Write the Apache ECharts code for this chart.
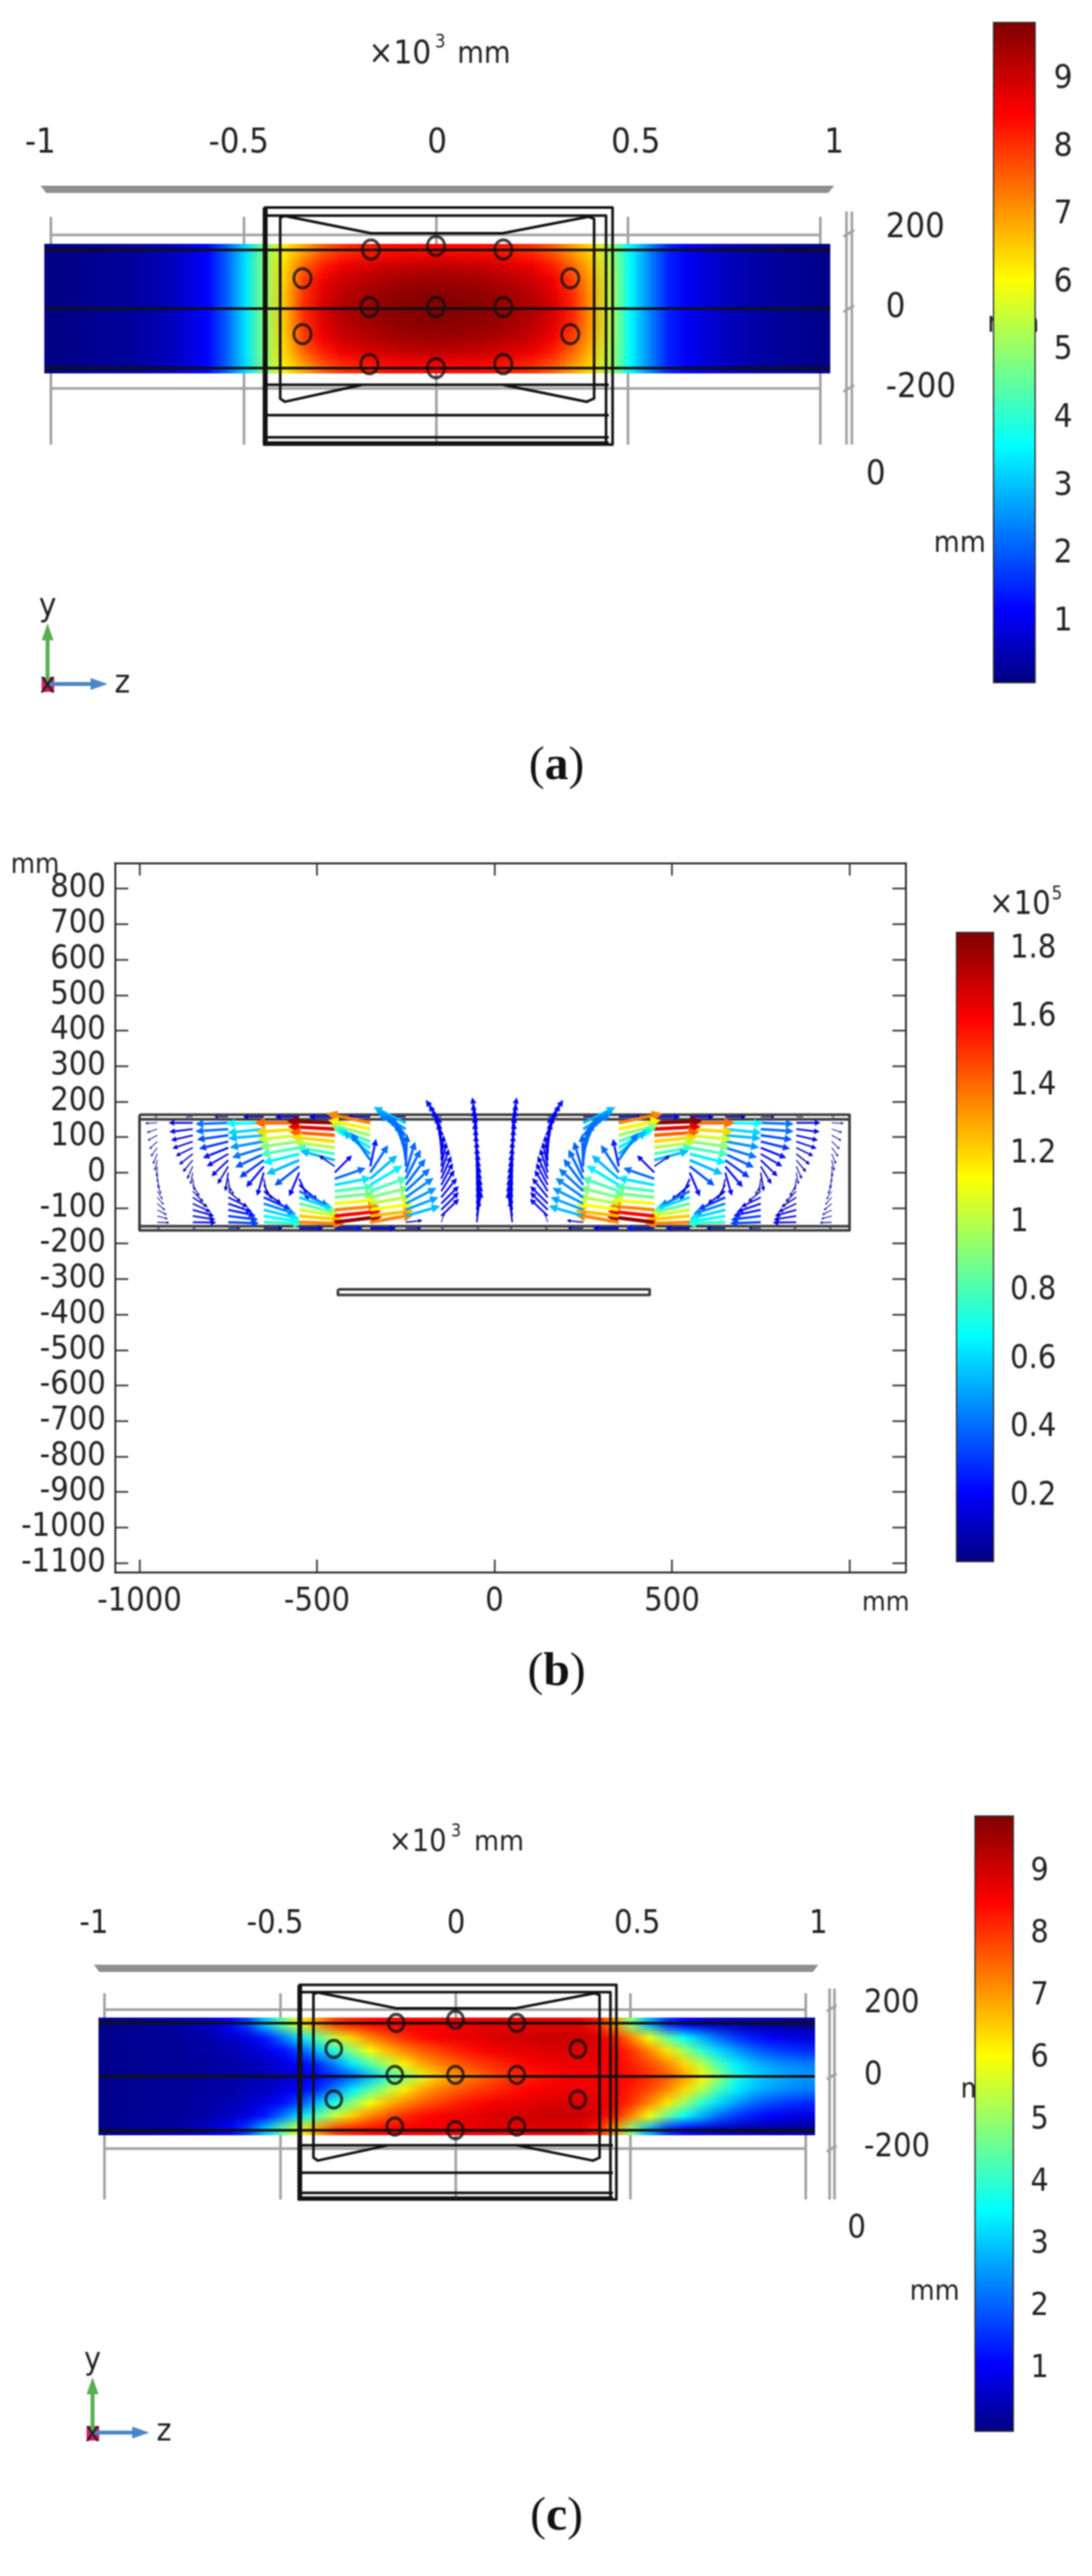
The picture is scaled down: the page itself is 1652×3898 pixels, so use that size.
<!DOCTYPE html>
<html>
<head>
<meta charset="utf-8">
<title>Field plots</title>
<script src="https://cdn.jsdelivr.net/npm/echarts@6/dist/echarts.min.js"></script>
<style>
  html, body { margin: 0; padding: 0; background: #fff; }
  #main { width: 1652px; height: 3898px; filter: blur(0.8px); }
</style>
</head>
<body>
<div id="main"></div>
<script>
// tick labels
var xLabels3d = [-1, -0.5, 0, 0.5, 1]
var yLabels3d = [-200, 0, 200]
var barTicksMm = [1, 2, 3, 4, 5, 6, 7, 8, 9]
var barTicksB = [0.2, 0.4, 0.6, 0.8, 1, 1.2, 1.4, 1.6, 1.8]
var bTicksX = [-1000, -500, 0, 500, 1000]
var bLabelsX = [-1000, -500, 0, 500]
var bTicksY = [800, 700, 600, 500, 400, 300, 200, 100, 0, -100, -200, -300, -400, -500, -600, -700, -800, -900, -1000, -1100]

// colour scale ranges
var rangeA = [0.1, 9.84]
var rangeB = [0.009, 1.848]
var rangeC = [0, 9.9]

var beamExtent = [-1017, 1026, -160, 160]
var fieldA = [
  [.15,.2,.25,.3,.35,.45,.6,.85,1.2,2.1,3.3,4.9,6.2,6.9,7.6,8.0,8.2,8.3,8.4,8.4,8.45,8.4,8.4,8.3,8.2,8.0,7.6,7.0,6.4,5.2,3.6,2.5,1.5,1.1,.85,.65,.5,.4,.3,.25,.2],
  [.15,.2,.25,.3,.35,.45,.6,.85,1.2,2.1,3.4,5.0,6.4,7.5,8.2,8.6,8.8,8.95,9.05,9.1,9.15,9.1,9.05,8.95,8.8,8.6,8.2,7.5,6.7,5.3,3.6,2.5,1.5,1.1,.85,.65,.5,.4,.3,.25,.2],
  [.15,.2,.25,.3,.35,.45,.6,.85,1.2,2.1,3.4,5.0,6.5,7.9,8.6,9.0,9.2,9.35,9.45,9.5,9.55,9.5,9.45,9.35,9.2,9.0,8.6,7.9,6.9,5.4,3.6,2.5,1.5,1.1,.85,.65,.5,.4,.3,.25,.2],
  [.15,.2,.25,.3,.35,.45,.6,.85,1.2,2.1,3.4,5.0,6.6,8.0,8.8,9.2,9.4,9.55,9.65,9.7,9.75,9.7,9.65,9.55,9.4,9.2,8.8,8.1,7.0,5.4,3.6,2.5,1.5,1.1,.85,.65,.5,.4,.3,.25,.2],
  [.15,.2,.25,.3,.35,.45,.6,.85,1.2,2.1,3.4,5.0,6.6,8.1,8.9,9.3,9.5,9.65,9.75,9.8,9.84,9.8,9.75,9.65,9.5,9.3,8.9,8.2,7.0,5.4,3.6,2.5,1.5,1.1,.85,.65,.5,.4,.3,.25,.2],
  [.15,.2,.25,.3,.35,.45,.6,.85,1.2,2.1,3.4,5.0,6.6,8.0,8.8,9.2,9.4,9.55,9.65,9.7,9.75,9.7,9.65,9.55,9.4,9.2,8.8,8.1,7.0,5.4,3.6,2.5,1.5,1.1,.85,.65,.5,.4,.3,.25,.2],
  [.15,.2,.25,.3,.35,.45,.6,.85,1.2,2.1,3.4,5.0,6.5,7.9,8.6,9.0,9.2,9.35,9.45,9.5,9.55,9.5,9.45,9.35,9.2,9.0,8.6,7.9,6.9,5.4,3.6,2.5,1.5,1.1,.85,.65,.5,.4,.3,.25,.2],
  [.15,.2,.25,.3,.35,.45,.6,.85,1.2,2.1,3.4,5.0,6.4,7.5,8.2,8.6,8.8,8.95,9.05,9.1,9.15,9.1,9.05,8.95,8.8,8.6,8.2,7.5,6.7,5.3,3.6,2.5,1.5,1.1,.85,.65,.5,.4,.3,.25,.2],
  [.15,.2,.25,.3,.35,.45,.6,.85,1.2,2.1,3.3,4.9,6.2,6.9,7.6,8.0,8.2,8.3,8.4,8.4,8.45,8.4,8.4,8.3,8.2,8.0,7.6,7.0,6.4,5.2,3.6,2.5,1.5,1.1,.85,.65,.5,.4,.3,.25,.2]
]
var fieldC = [
  [.1,.15,.2,.25,.3,.45,.7,1.1,1.7,3.0,4.5,5.9,7.0,7.9,8.2,8.4,8.5,8.6,8.6,8.6,8.7,8.7,8.8,8.8,8.8,8.8,8.8,8.8,8.3,7.0,4.8,2.8,1.6,1.1,.8,.6,.45,.35,.3,.25,.2],
  [.1,.15,.2,.2,.25,.3,.4,.6,.85,1.3,2.2,3.3,4.4,5.5,6.5,7.2,7.7,8.1,8.4,8.6,8.7,8.8,8.9,9.0,9.0,9.1,9.1,9.1,8.9,8.3,7.2,5.9,4.6,3.6,2.8,2.1,1.6,1.3,1.1,.9,.8],
  [.1,.15,.15,.2,.2,.3,.35,.45,.6,.85,1.2,1.8,2.9,3.9,4.9,5.9,6.7,7.2,7.6,7.9,8.2,8.4,8.6,8.7,8.8,8.9,8.9,8.9,8.8,8.6,8.0,7.2,6.3,5.1,4.0,3.2,2.6,2.1,1.8,1.6,1.5],
  [.1,.15,.15,.2,.2,.25,.3,.35,.45,.55,.8,1.1,1.5,2.4,3.4,4.4,5.3,6.2,6.9,7.3,7.6,7.9,8.1,8.3,8.5,8.6,8.7,8.7,8.7,8.6,8.2,7.8,7.2,6.4,5.3,4.2,3.4,2.9,2.6,2.4,2.3],
  [.1,.15,.15,.2,.2,.25,.3,.35,.4,.5,.6,.8,1.1,1.5,2.0,2.9,3.9,4.8,5.8,6.6,7.1,7.4,7.7,8.0,8.2,8.4,8.5,8.6,8.6,8.5,8.4,8.1,7.7,7.0,6.1,5.0,3.8,3.2,2.9,2.7,2.6],
  [.1,.15,.15,.2,.2,.25,.3,.35,.45,.55,.8,1.1,1.5,2.4,3.4,4.4,5.3,6.2,6.9,7.3,7.6,7.9,8.1,8.3,8.5,8.6,8.7,8.7,8.7,8.6,8.2,7.8,7.2,6.4,5.3,4.2,3.4,2.9,2.6,2.4,2.3],
  [.1,.15,.15,.2,.2,.3,.35,.45,.6,.85,1.2,1.8,2.9,3.9,4.9,5.9,6.7,7.2,7.6,7.9,8.2,8.4,8.6,8.7,8.8,8.9,8.9,8.9,8.8,8.6,8.0,7.2,6.3,5.1,4.0,3.2,2.6,2.1,1.8,1.6,1.5],
  [.1,.15,.2,.2,.25,.3,.4,.6,.85,1.3,2.2,3.3,4.4,5.5,6.5,7.2,7.7,8.1,8.4,8.6,8.7,8.8,8.9,9.0,9.0,9.1,9.1,9.1,8.9,8.3,7.2,5.9,4.6,3.6,2.8,2.1,1.6,1.3,1.1,.9,.8],
  [.1,.15,.2,.25,.3,.45,.7,1.1,1.7,3.0,4.5,5.9,7.0,7.9,8.2,8.4,8.5,8.6,8.6,8.6,8.7,8.7,8.8,8.8,8.8,8.8,8.8,8.8,8.3,7.0,4.8,2.8,1.6,1.1,.8,.6,.45,.35,.3,.25,.2]
]

// bolt holes, mm
var holes = [[-168,146],[1,155],[176,146],[-346,75],[350,75],[-172,4],[1,4],[176,4],[-346,-63],[350,-63],[-172,-137],[1,-147],[176,-137]]

// grey reference lines of the 3D view, mm
var grayLines = [
  [[-1000,227],[-1000,-336]], [[-498,227],[-498,-336]], [[2,230],[2,-335]], [[500,227],[500,-336]], [[1000,227],[1000,-336]],
  [[-1000,182],[1000,182]], [[-1000,-197],[1000,-197]],
  [[1068,240],[1068,-336]], [[1082,240],[1082,-336]],
  [[1060,178],[1088,194]], [[1060,-8],[1088,8]], [[1060,-205],[1088,-189]]
]
// frame and plate outlines, mm
var frameLines = [
  [[-446,250],[460,250],[460,-336],[-446,-336],[-446,250]],
  [[-440,250],[-440,-336]],
  [[-446,230],[443,230],[443,-333]],
  [[-392,229],[-168,186],[174,186],[397,227]],
  [[-392,229],[-404,225],[-404,-222],[-392,-230],[-191,-188]],
  [[397,227],[412,222],[412,-222],[393,-230],[175,-188]],
  [[-446,-188],[450,-188]], [[-446,-263],[450,-263]], [[-446,-318],[450,-318]], [[-446,-331],[450,-331]],
  [[-1017,145],[1026,145]], [[-1017,0],[1026,0]], [[-1017,-147],[1026,-147]]
]

// panel b: arrows on a 10 x 17 grid, left half, right half is the mirror image
var arrowCols = [-950, -850, -750, -650, -550, -450, -350, -250, -150, -50]
var arrowRows = [140, 122.5, 105, 87.5, 70, 52.5, 35, 17.5, 0, -17.5, -35, -52.5, -70, -87.5, -105, -122.5, -140]
var arrowAngle = [
  [182,199,209,224,234,247,256,266,272,282,293,303,312,320,332,345,358],
  [180,187,193,199,206,218,230,246,259,278,300,314,327,335,344,351,359],
  [182,184,188,194,202,210,224,239,261,278,300,320,334,341,348,353,358],
  [181,186,185,190,197,205,216,230,254,282,300,324,336,342,346,351,358],
  [180,184,186,188,190,194,203,218,247,294,320,333,341,346,351,355,358],
  [178,177,176,174,172,170,165,146,45,19,11,7,6,5,5,6,7],
  [168,168,165,160,150,140,125,78,57,41,31,20,14,10,8,7,10],
  [154,148,140,125,115,107,98,88,73,63,53,43,35,27,21,16,6],
  [124,116,109,102,97,91,84,78,72,66,62,58,51,45,45,44,70],
  [100,99,98,96,95,93,92,90,89,87,86,84,83,81,80,79,83]
]
var arrowMag = [
  [.05,.045,.045,.045,.045,.045,.045,.042,.04,.04,.04,.04,.04,.042,.045,.045,.05],
  [.17,.16,.14,.13,.10,.085,.07,.06,.05,.048,.055,.07,.09,.11,.14,.15,.16],
  [.41,.41,.36,.31,.235,.18,.155,.118,.10,.055,.045,.078,.135,.19,.25,.31,.33],
  [.68,.6,.55,.48,.42,.36,.3,.23,.17,.085,.078,.135,.3,.45,.6,.68,.75],
  [1.4,1.2,1.05,.92,.8,.65,.55,.35,.2,.16,.17,.43,.6,.85,1.05,1.22,1.35],
  [1.83,1.65,1.42,1.2,1.0,.78,.55,.1,.17,.4,.62,.8,.88,1.1,1.35,1.6,1.82],
  [1.35,1.15,.95,.8,.65,.55,.42,.25,.4,.55,.65,.8,.9,1.0,1.12,1.25,1.35],
  [.55,.5,.45,.42,.42,.4,.4,.38,.38,.4,.4,.42,.45,.48,.5,.55,.08],
  [.24,.23,.2,.19,.18,.18,.18,.18,.18,.18,.18,.18,.18,.18,.18,.18,.04],
  [.2,.19,.19,.18,.18,.18,.18,.18,.18,.18,.18,.18,.18,.18,.18,.18,.13]
]
// thin arrows running inside the two flanges
var flangeTopMag = [.02,.03,.06,.12,.17,.2,.15,.08,.02,.01]
var flangeBottomMag = [.01,.02,.05,.1,.17,.25,.2,.07,.02,.01]
var flangeY = 157

// panel b beam outlines, mm
var bBoxLines = [
  [[-1000,163],[1000,163],[1000,-163],[-1000,-163],[-1000,163]],
  [[-1000,150],[1000,150]], [[-1000,-151],[1000,-151]],
  [[-441,-329],[437,-329],[437,-345],[-441,-345],[-441,-329]]
]

var FONT = '"DejaVu Sans Condensed", "DejaVu Sans"'
var TEXT = '#222'
var jetStops = [[0,[0,0,127]],[.11,[0,0,255]],[.36,[0,255,255]],[.61,[255,255,0]],[.86,[255,0,0]],[1,[127,0,0]]]

function jet(t) {
  t = Math.max(0, Math.min(1, t))
  for (var i = 1; i < jetStops.length; i++) {
    if (t <= jetStops[i][0]) {
      var a = jetStops[i - 1], b = jetStops[i]
      var f = (t - a[0]) / (b[0] - a[0])
      return [0, 1, 2].map(function (c) { return Math.round(a[1][c] + (b[1][c] - a[1][c]) * f) })
    }
  }
  return jetStops[jetStops.length - 1][1]
}
function css(c) { return 'rgb(' + c.join(',') + ')' }

// one pixel per value, the browser smooths it when the series stretches it on the beam
function fieldImage(rows, range) {
  var cv = document.createElement('canvas')
  cv.width = rows[0].length
  cv.height = rows.length
  var ctx = cv.getContext('2d')
  rows.forEach(function (row, r) {
    row.forEach(function (v, c) {
      ctx.fillStyle = css(jet((v - range[0]) / (range[1] - range[0])))
      ctx.fillRect(c, r, 1, 1)
    })
  })
  return cv
}

var grids = [], xAxes = [], yAxes = [], series = [], graphics = []

function addGrid(rect, x, y) {
  grids.push({ left: rect[0], top: rect[1], width: rect[2], height: rect[3] })
  var g = grids.length - 1
  var xs = Array.isArray(x) ? x : [x], ys = Array.isArray(y) ? y : [y]
  var res = { x: xAxes.length, y: yAxes.length }
  xs.forEach(function (a) { a.gridIndex = g; xAxes.push(a) })
  ys.forEach(function (a) { a.gridIndex = g; yAxes.push(a) })
  return res
}
function hidden(min, max) { return { type: 'value', show: false, min: min, max: max } }

function polySeries(ax, lines, color, width, z) {
  series.push({
    type: 'custom', xAxisIndex: ax.x, yAxisIndex: ax.y, silent: true, z: z,
    data: lines.map(function (l, i) { return [i] }),
    renderItem: function (params, api) {
      var pts = lines[api.value(0)].map(function (p) { return api.coord(p) })
      return { type: 'polyline', shape: { points: pts }, style: { stroke: color, lineWidth: width, fill: 'none', lineJoin: 'round' } }
    }
  })
}

function colorBar(rect, range, ticks, fontSize, margin) {
  var tick = { show: true, inside: true, length: 11, customValues: ticks, lineStyle: { color: '#222', width: 2.5 } }
  var ax = addGrid(rect, hidden(0, 1), [
    { type: 'value', position: 'left', min: range[0], max: range[1], axisLine: { show: false }, axisLabel: { show: false }, axisTick: tick, splitLine: { show: false } },
    { type: 'value', position: 'right', min: range[0], max: range[1], axisLine: { show: false }, axisTick: tick, splitLine: { show: false },
      axisLabel: { customValues: ticks, margin: margin, fontFamily: FONT, fontSize: fontSize, color: TEXT, formatter: function (v) { return String(v) } } }
  ])
  series.push({
    type: 'custom', xAxisIndex: ax.x, yAxisIndex: ax.y, silent: true, z: 1,
    data: [[0, 1, range[0], range[1]]],
    encode: { x: [0, 1], y: [2, 3] },
    renderItem: function (params, api) {
      var a = api.coord([0, range[1]]), b = api.coord([1, range[0]])
      return {
        type: 'rect', shape: { x: a[0], y: a[1], width: b[0] - a[0], height: b[1] - a[1] },
        style: {
          stroke: '#333', lineWidth: 2,
          fill: new echarts.graphic.LinearGradient(0, 1, 0, 0, jetStops.map(function (s) { return { offset: s[0], color: css(s[1]) } }))
        }
      }
    }
  })
}

function text(x, y, str, size, extra) {
  graphics.push({
    type: 'text', x: x, y: y, z: 0, silent: true,
    style: Object.assign({ text: str, fontSize: size, fontFamily: FONT, fill: TEXT, align: 'center', verticalAlign: 'middle' }, extra || {})
  })
}

function caption(x, y, letter) {
  graphics.push({
    type: 'text', x: x, y: y, z: 0, silent: true,
    style: {
      text: '{p|(}{l|' + letter + '}{p|)}', align: 'center', verticalAlign: 'middle', fill: '#111',
      rich: {
        p: { fontFamily: '"Liberation Serif"', fontSize: 72, fill: '#111' },
        l: { fontFamily: '"Liberation Serif"', fontSize: 72, fontWeight: 'bold', fill: '#111' }
      }
    }
  })
}

function triad(ox, oy, up, right, size) {
  var green = '#5aad53', blue = '#4a86c5'
  graphics.push(
    { type: 'rect', z: 0, silent: true, shape: { x: ox - 9, y: oy - 10, width: 19, height: 22 }, style: { fill: '#d81b60' } },
    { type: 'line', z: 0, silent: true, shape: { x1: ox, y1: oy, x2: ox, y2: oy - up + 20 }, style: { stroke: green, lineWidth: 6 } },
    { type: 'polygon', z: 0, silent: true, shape: { points: [[ox, oy - up], [ox - 9, oy - up + 26], [ox + 9, oy - up + 26]] }, style: { fill: green } },
    { type: 'line', z: 0, silent: true, shape: { x1: ox, y1: oy, x2: ox + right - 20, y2: oy }, style: { stroke: blue, lineWidth: 6 } },
    { type: 'polygon', z: 0, silent: true, shape: { points: [[ox + right, oy], [ox + right - 26, oy - 9], [ox + right - 26, oy + 9]] }, style: { fill: blue } }
  )
  text(ox, oy + 2, 'x', size - 6)
  text(ox, oy - up - 24, 'y', size)
  text(ox + right + 22, oy, 'z', size)
}

// one of the two 3D views
function view3d(p) {
  var top = addGrid(p.axisRect,
    { type: 'value', position: 'top', min: -1, max: 1, axisLine: { show: false }, axisTick: { show: false }, splitLine: { show: false },
      axisLabel: { customValues: xLabels3d, margin: p.labelMargin, fontFamily: FONT, fontSize: p.font, color: TEXT, formatter: function (v) { return String(v) } } },
    hidden(0, 1))
  series.push({
    type: 'custom', xAxisIndex: top.x, yAxisIndex: top.y, silent: true, z: 1, data: [[0]],
    renderItem: function (params, api) {
      var pts = [[-1, 1], [1, 1], [.985, 0], [-.985, 0]].map(function (q) { return api.coord(q) })
      return { type: 'polygon', shape: { points: pts }, style: { fill: '#8f8f8f' } }
    }
  })
  addGrid(p.yRect, hidden(0, 1),
    { type: 'value', position: 'right', min: p.yRange[0], max: p.yRange[1], axisLine: { show: false }, axisTick: { show: false }, splitLine: { show: false },
      axisLabel: { customValues: yLabels3d, margin: p.yMargin, fontFamily: FONT, fontSize: p.font, color: TEXT, formatter: function (v) { return String(v) } } })

  var f = addGrid(p.fieldRect, hidden(-1100, 1100), hidden(-348, 256))
  polySeries(f, grayLines, '#a2a2a2', 4, 1)
  var img = fieldImage(p.field, p.range)
  series.push({
    type: 'custom', xAxisIndex: f.x, yAxisIndex: f.y, silent: true, z: 2,
    data: [beamExtent],
    encode: { x: [0, 1], y: [2, 3] },
    renderItem: function (params, api) {
      var a = api.coord([api.value(0), api.value(3)]), b = api.coord([api.value(1), api.value(2)])
      return { type: 'image', style: { image: img, x: a[0], y: a[1], width: b[0] - a[0], height: b[1] - a[1] } }
    }
  })
  polySeries(f, frameLines, '#111', 4, 3)
  series.push({
    type: 'scatter', xAxisIndex: f.x, yAxisIndex: f.y, silent: true, z: 4, data: holes,
    symbol: 'circle', symbolSize: p.holeSize,
    itemStyle: { color: 'rgba(0,0,0,0)', borderColor: '#111', borderWidth: 4.5 }
  })
  colorBar(p.barRect, p.range, barTicksMm, p.barFont, p.barMargin)
}

view3d({
  axisRect: [61, 281, 1201, 11], labelMargin: 38, font: 52,
  yRect: [1282, 321, 8, 352], yRange: [-342, 240], yMargin: 50,
  fieldRect: [18.8, 310.2, 1280.4, 370], field: fieldA, range: rangeA, holeSize: [26, 29],
  barRect: [1503, 34, 63, 999], barFont: 50, barMargin: 28
})
view3d({
  axisRect: [142, 2973, 1096, 11], labelMargin: 36, font: 49,
  yRect: [1252, 3009, 8, 321], yRange: [-347, 242], yMargin: 47,
  fieldRect: [105, 3000.1, 1167, 334.7], field: fieldC, range: rangeC, holeSize: [24, 26],
  barRect: [1475, 2748, 58, 931], barFont: 48, barMargin: 26
})

// panel b axes, the frame carries inward ticks on all four sides
function bTick(vals, len) { return { show: true, inside: true, length: len, customValues: vals, lineStyle: { color: '#333', width: 2.5 } } }
var bLine = { show: true, onZero: false, lineStyle: { color: '#333', width: 3 } }
var bAx = addGrid([174, 1306, 1196, 1073], [
  { type: 'value', position: 'bottom', min: -1069, max: 1158, axisLine: bLine, axisTick: bTick(bTicksX, 19), splitLine: { show: false },
    axisLabel: { customValues: bLabelsX, margin: 21, fontFamily: FONT, fontSize: 49, color: TEXT, formatter: function (v) { return String(v) } } },
  { type: 'value', position: 'top', min: -1069, max: 1158, axisLine: bLine, axisTick: bTick(bTicksX, 19), axisLabel: { show: false }, splitLine: { show: false } }
], [
  { type: 'value', position: 'left', min: -1126, max: 872, axisLine: bLine, axisTick: bTick(bTicksY, 20), splitLine: { show: false },
    axisLabel: { customValues: bTicksY, margin: 14, fontFamily: FONT, fontSize: 49, color: TEXT, formatter: function (v) { return String(v) } } },
  { type: 'value', position: 'right', min: -1126, max: 872, axisLine: bLine, axisTick: bTick(bTicksY, 20), axisLabel: { show: false }, splitLine: { show: false } }
])
polySeries(bAx, bBoxLines, '#3a3a3a', 4, 2)

// arrow length on a log scale, as in the source plot
var arrowData = []
function pushArrow(z, y, ang, m) {
  arrowData.push([z, y, ang, m])
  arrowData.push([-z, y, 180 - ang, m])
}
arrowCols.forEach(function (z, c) {
  pushArrow(z, flangeY, 180, flangeTopMag[c])
  pushArrow(z, -flangeY, 0, flangeBottomMag[c])
  arrowRows.forEach(function (y, r) { pushArrow(z, y, arrowAngle[c][r], arrowMag[c][r]) })
})
series.push({
  type: 'custom', xAxisIndex: bAx.x, yAxisIndex: bAx.y, silent: true, z: 3,
  data: arrowData,
  renderItem: function (params, api) {
    var z = api.value(0), y = api.value(1), ang = api.value(2) * Math.PI / 180, m = api.value(3)
    var len = Math.max(8, 118 + 28 * Math.log(m))
    var p0 = api.coord([z, y]), p1 = api.coord([z + len * Math.cos(ang), y + len * Math.sin(ang)])
    var dx = p1[0] - p0[0], dy = p1[1] - p0[1], L = Math.sqrt(dx * dx + dy * dy)
    var ux = dx / L, uy = dy / L, hl = L * .24, hw = L * .12
    var bx = p1[0] - ux * hl, by = p1[1] - uy * hl
    var col = css(jet((m - rangeB[0]) / (rangeB[1] - rangeB[0])))
    return {
      type: 'group',
      children: [
        { type: 'line', shape: { x1: p0[0], y1: p0[1], x2: bx, y2: by }, style: { stroke: col, lineWidth: Math.max(1.2, L * .075) } },
        { type: 'polygon', shape: { points: [p1, [bx - uy * hw, by + ux * hw], [bx + uy * hw, by - ux * hw]] }, style: { fill: col } }
      ]
    }
  }
})
colorBar([1447, 1411, 56, 952], rangeB, barTicksB, 49, 25)

// loose text of panel a
text(605, 83, '×10', 50); text(666, 65, '3', 28); text(732, 83, 'mm', 46)
text(1325, 719, '0', 52); text(1452, 823, 'mm', 45); text(1533, 490, 'mm', 45)
triad(72, 1035, 92, 91, 50)
caption(842, 1160, 'a')

// loose text of panel b
text(53, 1310, 'mm', 42); text(1340, 2426, 'mm', 41)
text(1543, 1370, '×10', 49); text(1599, 1354, '5', 28)
caption(842, 2531, 'b')

// loose text of panel c
text(632, 2789, '×10', 46); text(690, 2772, '3', 27); text(755, 2789, 'mm', 43)
text(1296, 3373, '0', 49); text(1414, 3469, 'mm', 43); text(1491, 3163, 'mm', 43)
triad(140, 3681, 84, 86, 48)
caption(842, 3809, 'c')

var chart = echarts.init(document.getElementById('main'), null, { renderer: 'canvas' })
chart.setOption({
  animation: false,
  backgroundColor: '#fff',
  grid: grids,
  xAxis: xAxes,
  yAxis: yAxes,
  series: series,
  graphic: graphics
})
</script>
</body>
</html>
